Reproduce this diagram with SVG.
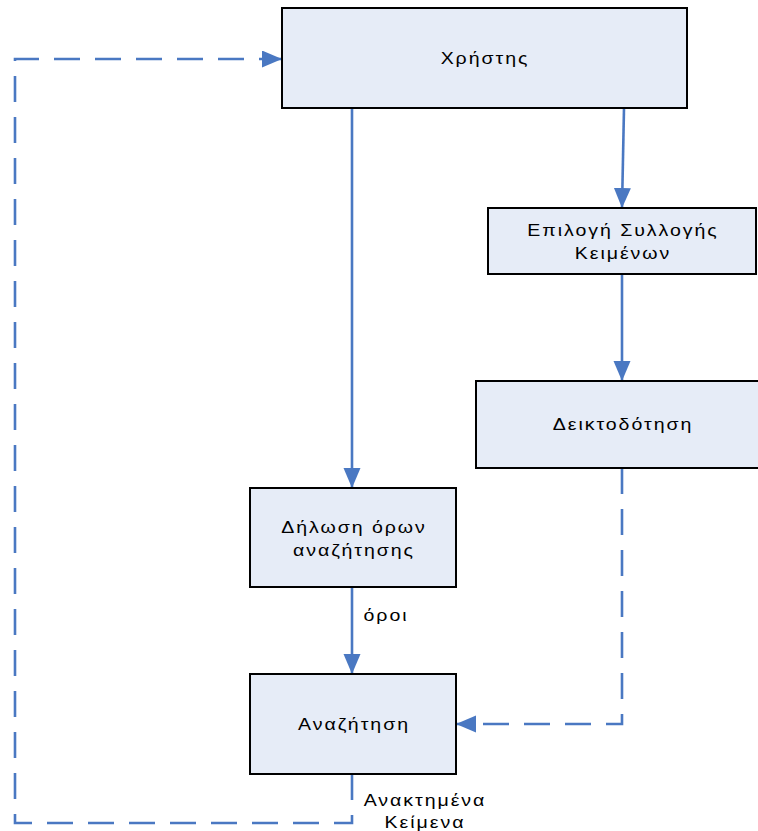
<svg xmlns="http://www.w3.org/2000/svg" width="758" height="831" viewBox="0 0 758 831">
  <defs>
    <marker id="arrow" markerUnits="userSpaceOnUse" markerWidth="21" markerHeight="18" refX="20" refY="8.5" orient="auto">
      <path d="M0,0 L20,8.5 L0,17 Z" fill="#4a78c2"/>
    </marker>
    <style>
      .box { fill: #e6ecf7; stroke: #000; stroke-width: 2; }
      .label { font-family: "Liberation Sans", Arial, sans-serif; font-size: 17px; fill: #000; text-anchor: middle; letter-spacing: 1.7px; }
      .flow { fill: none; stroke: #4a78c2; stroke-width: 2.6; }
      .dashed { stroke-dasharray: 26 15; }
    </style>
  </defs>

  <rect width="758" height="831" fill="#fff"/>

  <!-- connectors; labels are drawn slightly widened -->
  <g id="connectors">
    <path class="flow" d="M352,108 L352,488" marker-end="url(#arrow)"/>
    <path class="flow" d="M624,108 L622,208" marker-end="url(#arrow)"/>
    <path class="flow" d="M622,274 L622,381" marker-end="url(#arrow)"/>
    <path class="flow" d="M352,587 L352,674" marker-end="url(#arrow)"/>
    <path class="flow dashed" d="M622,468 L622,724 L456,724" marker-end="url(#arrow)"/>
    <path class="flow dashed" d="M352,774 L352,823 L15,823 L15,59 L282,59" marker-end="url(#arrow)"/>
    <text class="label" transform="translate(386,621) scale(1.15,1)">όροι</text>
    <text class="label" transform="translate(425,806) scale(1.15,1)">Ανακτημένα</text>
    <text class="label" transform="translate(425,828) scale(1.15,1)">Κείμενα</text>
  </g>

  <g id="user">
    <rect class="box" x="282" y="8" width="405" height="100"/>
    <text class="label" transform="translate(485,64) scale(1.15,1)">Χρήστης</text>
  </g>

  <g id="collection">
    <rect class="box" x="488" y="208" width="268" height="66"/>
    <text class="label" transform="translate(623,236) scale(1.15,1)">Επιλογή Συλλογής</text>
    <text class="label" transform="translate(623,259) scale(1.15,1)">Κειμένων</text>
  </g>

  <g id="indexing">
    <rect class="box" x="476" y="381" width="300" height="87"/>
    <text class="label" transform="translate(623,430) scale(1.15,1)">Δεικτοδότηση</text>
  </g>

  <g id="query-terms">
    <rect class="box" x="250" y="488" width="206" height="99"/>
    <text class="label" transform="translate(354,533) scale(1.15,1)">Δήλωση όρων</text>
    <text class="label" transform="translate(354,556) scale(1.15,1)">αναζήτησης</text>
  </g>

  <g id="search">
    <rect class="box" x="250" y="674" width="206" height="100"/>
    <text class="label" transform="translate(354,730) scale(1.15,1)">Αναζήτηση</text>
  </g>
</svg>
